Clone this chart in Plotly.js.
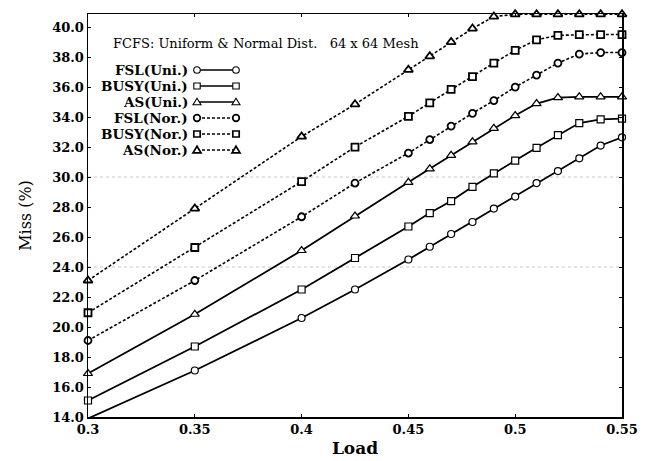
<!DOCTYPE html>
<html><head><meta charset="utf-8">
<script src="https://cdn.plot.ly/plotly-3.0.1.min.js"></script>
<style>html,body{margin:0;padding:0;background:#fff}</style>
</head><body><div id="chart" style="width:650px;height:461px"></div>
<script>
// ---- data ----
const load = [0.3, 0.35, 0.4, 0.425, 0.45, 0.46, 0.47, 0.48, 0.49, 0.5, 0.51, 0.52, 0.53, 0.54, 0.55];
const fslUni  = [13.9, 17.1, 20.6, 22.5, 24.5, 25.35, 26.2, 27.0, 27.9, 28.7, 29.6, 30.4, 31.25, 32.1, 32.65];
const busyUni = [15.1, 18.7, 22.5, 24.6, 26.7, 27.6, 28.4, 29.35, 30.25, 31.1, 31.95, 32.8, 33.6, 33.85, 33.9];
const asUni   = [16.9, 20.85, 25.1, 27.4, 29.65, 30.55, 31.45, 32.35, 33.25, 34.1, 34.9, 35.3, 35.35, 35.35, 35.35];
const fslNor  = [19.1, 23.1, 27.35, 29.6, 31.6, 32.5, 33.4, 34.25, 35.1, 36.0, 36.8, 37.6, 38.2, 38.3, 38.3];
const busyNor = [20.95, 25.3, 29.7, 32.0, 34.05, 34.95, 35.85, 36.7, 37.6, 38.45, 39.15, 39.45, 39.5, 39.5, 39.5];
const asNor   = [23.1, 27.9, 32.7, 34.85, 37.15, 38.05, 39.0, 39.9, 40.7, 40.85, 40.85, 40.85, 40.85, 40.85, 40.85];
const seriesNames = ['FSL(Uni.)', 'BUSY(Uni.)', 'AS(Uni.)', 'FSL(Nor.)', 'BUSY(Nor.)', 'AS(Nor.)'];
const xTickVals = [0.3, 0.35, 0.4, 0.45, 0.5, 0.55];
const xTickText = ['0.3', '0.35', '0.4', '0.45', '0.5', '0.55'];
const yTickVals = [14, 16, 18, 20, 22, 24, 26, 28, 30, 32, 34, 36, 38, 40];
const chartTitle = 'FCFS: Uniform &amp; Normal Dist.&nbsp;&nbsp; 64 x 64 Mesh';

// ---- styling ----
const ys = [fslUni, busyUni, asUni, fslNor, busyNor, asNor];
const symbols = ['circle', 'square', 'triangle-up', 'circle', 'square', 'triangle-up'];
const dashes = ['solid', 'solid', 'solid', '3px,2px', '3px,2px', '3px,2px'];
const FONT = 'DejaVu Serif, Liberation Serif, serif';

const traces = ys.map((y, i) => ({
  type: 'scatter', mode: 'lines+markers', x: load, y: y, name: seriesNames[i],
  showlegend: false, cliponaxis: false,
  line: {color: '#000', width: i < 3 ? 1.8 : 1.6, dash: dashes[i]},
  marker: {symbol: symbols[i], size: symbols[i] === 'triangle-up' ? 8 : 7, color: '#fff',
           line: {color: '#000', width: i < 3 ? 1.2 : 1.8}}
}));

// plot area in pixels
const L = 88, R = 622, T = 14, B = 417;
const px = v => (v - L) / (R - L);
const py = v => (B - v) / (B - T);

const shapes = [];
const annotations = [];
// faint scan grid lines
[24, 30].forEach(v => shapes.push({type: 'line', xref: 'paper', yref: 'y', x0: 0, x1: 1, y0: v, y1: v,
  line: {color: '#c8c8c8', width: 1, dash: 'dot'}, layer: 'below'}));

// custom legend: label right-aligned, then sample line with markers at both ends
const legTextRight = 190, legX0 = 197, legX1 = 236, legY0 = 70, legStep = 16;
seriesNames.forEach((nm, i) => {
  const yy = legY0 + i * legStep;
  annotations.push({xref: 'paper', yref: 'paper', x: px(legTextRight), y: py(yy), xanchor: 'right', yanchor: 'middle',
    text: nm, showarrow: false, font: {family: FONT, size: 13.5, color: '#000', weight: 'bold'}});
  shapes.push({type: 'line', xref: 'paper', yref: 'paper', x0: px(legX0), x1: px(legX1), y0: py(yy), y1: py(yy),
    line: {color: '#000', width: 1.6, dash: dashes[i]}});
  [legX0, legX1].forEach(xx => {
    const base = {xref: 'paper', yref: 'paper', xsizemode: 'pixel', ysizemode: 'pixel',
      xanchor: px(xx), yanchor: py(yy), fillcolor: '#fff', line: {color: '#000', width: i < 3 ? 1.1 : 1.7}};
    if (symbols[i] === 'circle') shapes.push(Object.assign({type: 'circle', x0: -3.3, x1: 3.3, y0: -3.3, y1: 3.3}, base));
    else if (symbols[i] === 'square') shapes.push(Object.assign({type: 'rect', x0: -3.2, x1: 3.2, y0: -3, y1: 3}, base));
    else shapes.push(Object.assign({type: 'path', path: 'M0,3.8L-4,-2.8L4,-2.8Z'}, base));
  });
});

annotations.push({xref: 'paper', yref: 'paper', x: px(111), y: py(43), xanchor: 'left', yanchor: 'middle',
  text: chartTitle, showarrow: false, font: {family: FONT, size: 13, color: '#000'}});

const layout = {
  width: 650, height: 461,
  margin: {l: L, r: 650 - R, t: T, b: 461 - B, pad: 0},
  paper_bgcolor: '#fff', plot_bgcolor: '#fff',
  showlegend: false,
  xaxis: {range: [0.3, 0.55], tickvals: xTickVals, ticktext: xTickText,
    showgrid: false, zeroline: false, showline: true, linecolor: '#000', linewidth: 1.5, mirror: 'ticks',
    ticks: 'inside', ticklen: 3, tickcolor: '#000',
    tickfont: {family: FONT, size: 13, color: '#000', weight: 'bold'},
    title: {text: 'Load', font: {family: FONT, size: 17, color: '#000', weight: 'bold'}, standoff: 6}},
  yaxis: {range: [14, 40.87], tickvals: yTickVals, tickformat: '.1f',
    showgrid: false, zeroline: false, showline: true, linecolor: '#000', linewidth: 1.5, mirror: 'ticks',
    ticks: 'inside', ticklen: 3, tickcolor: '#000',
    tickfont: {family: FONT, size: 13, color: '#000', weight: 'bold'},
    title: {text: 'Miss (%)', font: {family: FONT, size: 16, color: '#000'}, standoff: 16}},
  shapes: shapes,
  annotations: annotations
};

Plotly.newPlot('chart', traces, layout, {displayModeBar: false, staticPlot: true});
</script></body></html>
